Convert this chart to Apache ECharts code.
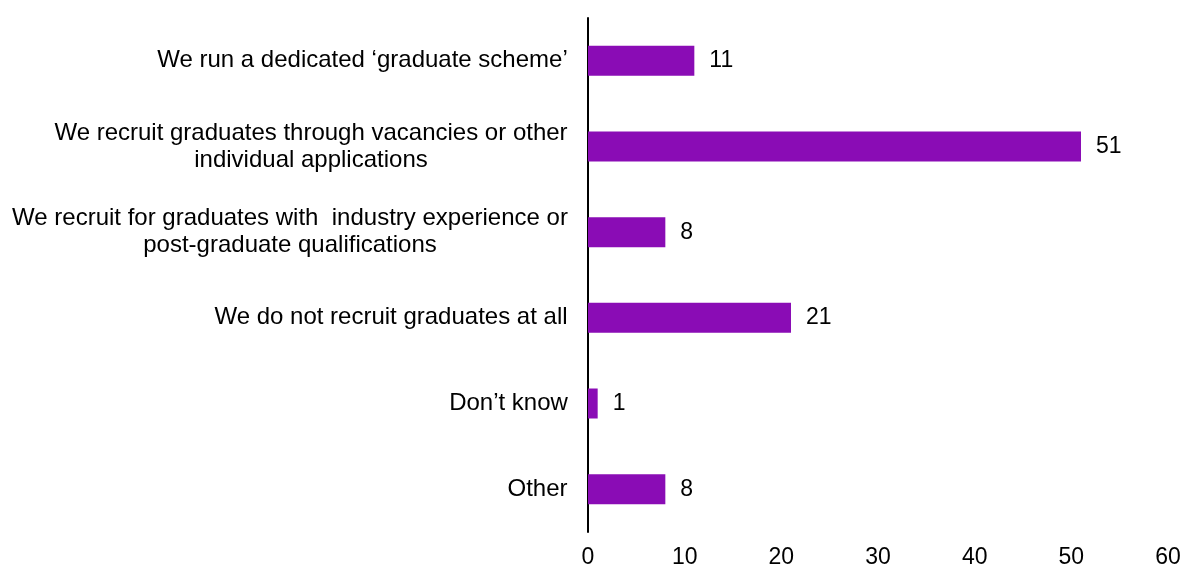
<!DOCTYPE html>
<html>
<head>
<meta charset="utf-8">
<script src="https://cdn.jsdelivr.net/npm/echarts@6/dist/echarts.min.js"></script>
<style>
  html, body { margin: 0; padding: 0; background: #ffffff; }
  #chart { width: 1184px; height: 569px; }
</style>
</head>
<body>
<div id="chart"></div>
<script>
// Survey responses: how graduates are recruited
const categories = [
  'We run a dedicated \u2018graduate scheme\u2019',
  'We recruit graduates through vacancies or other\nindividual applications',
  'We recruit for graduates with  industry experience or\npost-graduate qualifications',
  'We do not recruit graduates at all',
  'Don\u2019t know',
  'Other'
];
const values = [11, 51, 8, 21, 1, 8];
const xTicks = [0, 10, 20, 30, 40, 50, 60];

const FONT = '"Liberation Sans", Arial, sans-serif';
const LABEL_SIZE = 24;
const NUM_SIZE = 23;

// Multi-line category labels: lines are centred within the block,
// and the block itself is right-aligned against the axis.
const ctx = document.createElement('canvas').getContext('2d');
ctx.font = LABEL_SIZE + 'px ' + FONT;
const rich = {};
categories.forEach(function (c, i) {
  const w = Math.max.apply(null, c.split('\n').map(function (l) { return ctx.measureText(l).width; }));
  rich['r' + i] = {
    width: Math.ceil(w),
    align: 'center',
    fontSize: LABEL_SIZE,
    fontFamily: FONT,
    color: '#000000',
    lineHeight: 27
  };
});

const chart = echarts.init(document.getElementById('chart'));
chart.setOption({
  animation: false,
  backgroundColor: '#ffffff',
  grid: { left: 588, right: 16, top: 18, bottom: 37, containLabel: false },
  xAxis: {
    type: 'value',
    min: xTicks[0],
    max: xTicks[xTicks.length - 1],
    interval: 10,
    axisLine: { show: false },
    axisTick: { show: false },
    splitLine: { show: false },
    axisLabel: {
      margin: 14,
      fontSize: NUM_SIZE,
      fontFamily: FONT,
      color: '#000000'
    }
  },
  yAxis: {
    type: 'category',
    inverse: true,
    data: categories,
    axisTick: { show: false },
    axisLine: { show: true, lineStyle: { color: '#000000', width: 2 } },
    axisLabel: {
      margin: 20,
      formatter: function (value, idx) {
        return value.split('\n').map(function (l) { return '{r' + idx + '|' + l + '}'; }).join('\n');
      },
      rich: rich
    }
  },
  series: [{
    type: 'bar',
    data: values,
    barWidth: 30,
    itemStyle: { color: '#8A0CB5' },
    label: {
      show: true,
      position: 'right',
      distance: 15,
      fontSize: NUM_SIZE,
      fontFamily: FONT,
      color: '#000000'
    }
  }]
});
</script>
</body>
</html>
